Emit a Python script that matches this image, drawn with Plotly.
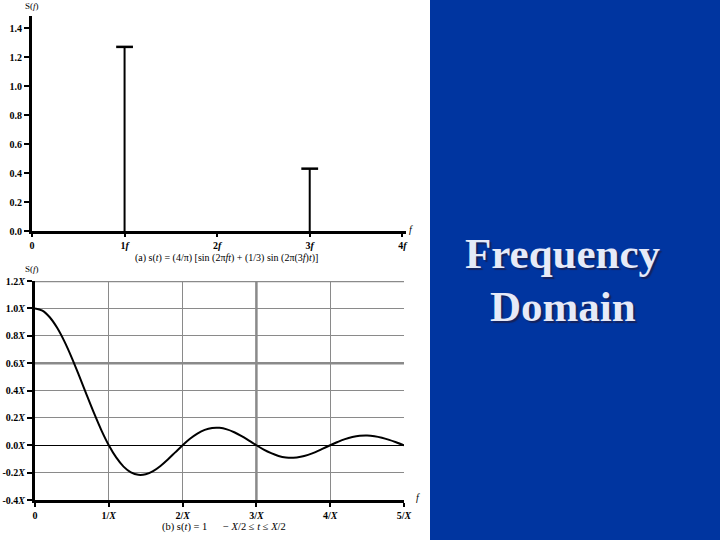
import plotly.graph_objects as go

# ---------------- data ----------------
# (a) line spectrum
spike_freqs = [1, 3]
spike_heights = [1.27, 0.43]
top_xticks = [0, 1, 2, 3, 4]
top_xlabels = ["0", "1<i>f</i>", "2<i>f</i>", "3<i>f</i>", "4<i>f</i>"]
top_yticks = [0.0, 0.2, 0.4, 0.6, 0.8, 1.0, 1.2, 1.4]
top_ylabels = ["0.0", "0.2", "0.4", "0.6", "0.8", "1.0", "1.2", "1.4"]

# (b) continuous spectrum of a pulse (in units of X)
curve_f = [0.0, 0.1, 0.2, 0.3, 0.4, 0.5, 0.6, 0.7, 0.8, 0.9,
           1.0, 1.1, 1.2, 1.3, 1.4, 1.5, 1.6, 1.7, 1.8, 1.9,
           2.0, 2.1, 2.2, 2.3, 2.4, 2.5, 2.6, 2.7, 2.8, 2.9,
           3.0, 3.1, 3.2, 3.3, 3.4, 3.5, 3.6, 3.7, 3.8, 3.9,
           4.0, 4.1, 4.2, 4.3, 4.4, 4.5, 4.6, 4.7, 4.8, 4.9, 5.0]
curve_s = [1.000, 0.984, 0.935, 0.858, 0.757, 0.637, 0.505, 0.368, 0.234, 0.109,
           0.000, -0.089, -0.156, -0.198, -0.216, -0.212, -0.189, -0.151, -0.104, -0.052,
           0.000, 0.047, 0.085, 0.112, 0.126, 0.127, 0.116, 0.095, 0.067, 0.034,
           0.000, -0.032, -0.058, -0.078, -0.089, -0.091, -0.084, -0.070, -0.050, -0.025,
           0.000, 0.024, 0.045, 0.060, 0.069, 0.071, 0.066, 0.055, 0.039, 0.020, 0.000]
bot_xticks = [0, 1, 2, 3, 4, 5]
bot_xlabels = ["0", "1/<i>X</i>", "2/<i>X</i>", "3/<i>X</i>", "4/<i>X</i>", "5/<i>X</i>"]
bot_yticks = [-0.4, -0.2, 0.0, 0.2, 0.4, 0.6, 0.8, 1.0, 1.2]
bot_ylabels = ["-0.4<i>X</i>", "-0.2<i>X</i>", "0.0<i>X</i>", "0.2<i>X</i>", "0.4<i>X</i>",
               "0.6<i>X</i>", "0.8<i>X</i>", "1.0<i>X</i>", "1.2<i>X</i>"]
heavy_h = [0.6, 1.2]
heavy_v = [3]

W, H = 720, 540
def px(x): return x / W
def py(y): return 1 - y / H

SERIF = "Liberation Serif, Times New Roman, serif"
tickfont = dict(family=SERIF, size=10, color="black", weight="bold")

fig = go.Figure()

# spikes
for f, h in zip(spike_freqs, spike_heights):
    fig.add_trace(go.Scatter(x=[f, f], y=[0, h], mode="lines",
                             line=dict(color="black", width=2),
                             xaxis="x", yaxis="y", showlegend=False, hoverinfo="skip"))
fig.add_trace(go.Scatter(x=spike_freqs, y=spike_heights, mode="markers",
                         marker=dict(symbol="line-ew-open", size=12, color="black",
                                     line=dict(color="black", width=2.5)),
                         xaxis="x", yaxis="y", showlegend=False, hoverinfo="skip"))

# sinc curve
fig.add_trace(go.Scatter(x=curve_f, y=curve_s, mode="lines",
                         line=dict(color="black", width=2, shape="spline"),
                         xaxis="x2", yaxis="y2", showlegend=False, hoverinfo="skip"))

shapes = [
    dict(type="rect", xref="paper", yref="paper", x0=px(430), x1=1, y0=0, y1=1,
         fillcolor="#0035A0", line=dict(width=0), layer="below"),
]
for v in heavy_h:
    shapes.append(dict(type="line", xref="x2", yref="y2", x0=0, x1=5, y0=v, y1=v,
                       line=dict(color="#8a8a8a", width=2.5), layer="below"))
for v in heavy_v:
    shapes.append(dict(type="line", xref="x2", yref="y2", x0=v, x1=v, y0=-0.4, y1=1.2,
                       line=dict(color="#8a8a8a", width=2.5), layer="below"))

def ann(text, x, y, size, color="black", weight="normal", shadow=None):
    f = dict(family=SERIF, size=size, color=color, weight=weight)
    if shadow:
        f["shadow"] = shadow
    return dict(text=text, x=px(x), y=py(y), xref="paper", yref="paper",
                xanchor="center", yanchor="middle", showarrow=False, font=f)

annotations = [
    ann("Frequency", 563, 253, 43, "#e6eaf8", "bold", "2px 2px 1px #14235e"),
    ann("Domain", 563, 306, 43, "#e6eaf8", "bold", "2px 2px 1px #14235e"),
    ann("S(<i>f</i>)", 32, 6, 9),
    ann("S(<i>f</i>)", 32, 269, 9),
    ann("<i>f</i>", 411, 229, 10),
    ann("<i>f</i>", 418, 497, 10),
    ann("(a) s(<i>t</i>) = (4/π) [sin (2π<i>ft</i>) + (1/3) sin (2π(3<i>f</i>)<i>t</i>)]", 226, 258, 10),
    ann("(b) s(<i>t</i>) = 1      − <i>X</i>/2 ≤ <i>t</i> ≤ <i>X</i>/2", 224, 527, 10.5),
]

axis_common = dict(showline=True, linecolor="black", linewidth=3, automargin=False,
                   ticks="outside", tickcolor="black", tickfont=tickfont, tickmode="array")

fig.update_layout(
    template="none",
    width=W, height=H, margin=dict(l=0, r=0, t=0, b=0, pad=0, autoexpand=False),
    paper_bgcolor="white", plot_bgcolor="rgba(0,0,0,0)",
    shapes=shapes, annotations=annotations, showlegend=False,
    xaxis=dict(domain=[px(32), px(406)], range=[0, 4.04], anchor="y",
               tickvals=top_xticks, ticktext=top_xlabels,
               showgrid=False, zeroline=False, ticklen=3, tickwidth=2, **axis_common),
    yaxis=dict(domain=[py(231), py(16)], range=[0, 1.483], anchor="x",
               tickvals=top_yticks, ticktext=top_ylabels,
               showgrid=False, zeroline=False, ticklen=5, tickwidth=1.5, **axis_common),
    xaxis2=dict(domain=[px(35), px(404)], range=[0, 5], anchor="y2",
                tickvals=bot_xticks, ticktext=bot_xlabels,
                showgrid=True, gridcolor="#8a8a8a", gridwidth=1, zeroline=False,
                ticklen=4, tickwidth=2, **axis_common),
    yaxis2=dict(domain=[py(500), py(281)], range=[-0.4, 1.2], anchor="x2",
                tickvals=bot_yticks, ticktext=bot_ylabels,
                showgrid=True, gridcolor="#8a8a8a", gridwidth=1,
                zeroline=True, zerolinecolor="black", zerolinewidth=1,
                ticklen=5, tickwidth=1.5, **axis_common),
)

fig.write_html("out.html", config={"displayModeBar": False},
               post_script="document.body.style.margin='0';document.body.style.overflow='hidden';")
